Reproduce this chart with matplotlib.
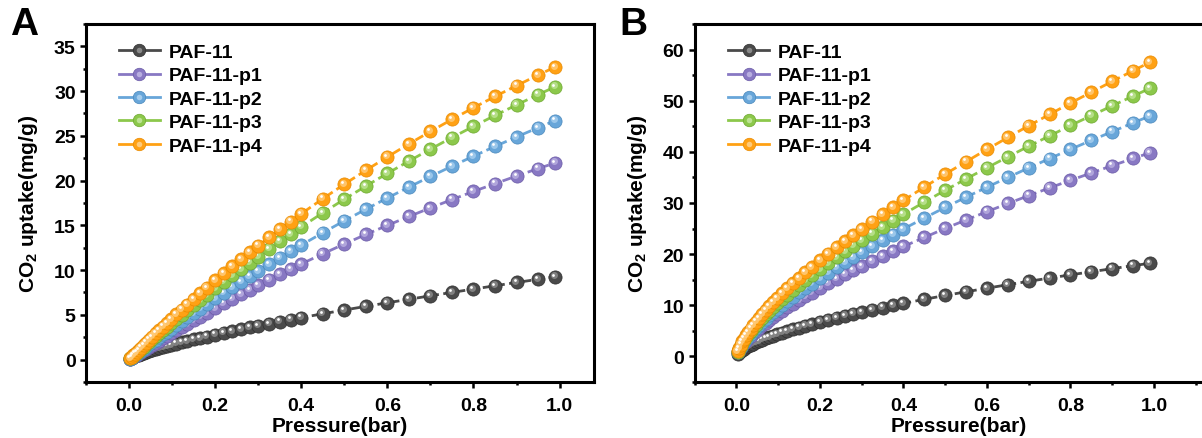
import matplotlib
matplotlib.use("Agg")
import matplotlib.pyplot as plt
from matplotlib.lines import Line2D
from matplotlib.legend_handler import HandlerTuple
from matplotlib.transforms import offset_copy
from matplotlib.ticker import MultipleLocator

plt.rcParams['font.family'] = ['Liberation Sans', 'DejaVu Sans']
plt.rcParams['font.weight'] = 'bold'
plt.rcParams['mathtext.fontset'] = 'custom'
plt.rcParams['mathtext.rm'] = 'Liberation Sans:bold'
plt.rcParams['mathtext.bf'] = 'Liberation Sans:bold'

# pressure points (bar), shared by all isotherms
pressure = [0.003, 0.006, 0.01, 0.014, 0.018, 0.023, 0.028, 0.034, 0.04, 0.047,
            0.054, 0.062, 0.07, 0.079, 0.088, 0.098, 0.11, 0.122, 0.135, 0.15,
            0.165, 0.18, 0.2, 0.22, 0.24, 0.26, 0.28, 0.3, 0.325, 0.35,
            0.375, 0.4, 0.45, 0.5, 0.55, 0.6, 0.65, 0.7, 0.75, 0.8,
            0.85, 0.9, 0.95, 0.99]

labels = ['PAF-11', 'PAF-11-p1', 'PAF-11-p2', 'PAF-11-p3', 'PAF-11-p4']

# panel A uptake (mg/g)
a_paf11 = [0.12, 0.20, 0.30, 0.38, 0.46, 0.55, 0.64, 0.74, 0.83, 0.94,
           1.04, 1.16, 1.27, 1.39, 1.51, 1.63, 1.78, 1.92, 2.08, 2.25,
           2.41, 2.57, 2.79, 2.99, 3.20, 3.39, 3.59, 3.78, 4.01, 4.24,
           4.47, 4.69, 5.12, 5.54, 5.95, 6.35, 6.74, 7.13, 7.51, 7.88,
           8.25, 8.62, 8.97, 9.25]
a_p1 = [0.09, 0.19, 0.31, 0.43, 0.55, 0.71, 0.86, 1.04, 1.22, 1.43,
        1.64, 1.88, 2.11, 2.37, 2.64, 2.92, 3.27, 3.61, 3.97, 4.39,
        4.80, 5.21, 5.74, 6.27, 6.79, 7.30, 7.81, 8.30, 8.92, 9.52,
        10.11, 10.69, 11.82, 12.92, 13.98, 15.00, 15.99, 16.95, 17.88, 18.79,
        19.66, 20.51, 21.34, 21.98]
a_p2 = [0.11, 0.22, 0.36, 0.51, 0.65, 0.83, 1.01, 1.23, 1.44, 1.69,
        1.94, 2.22, 2.50, 2.81, 3.12, 3.46, 3.87, 4.28, 4.71, 5.21,
        5.70, 6.19, 6.83, 7.46, 8.09, 8.70, 9.31, 9.91, 10.65, 11.38,
        12.09, 12.80, 14.17, 15.51, 16.80, 18.06, 19.28, 20.46, 21.61, 22.73,
        23.82, 24.88, 25.91, 26.71]
a_p3 = [0.13, 0.26, 0.43, 0.60, 0.77, 0.98, 1.19, 1.44, 1.69, 1.98,
        2.27, 2.60, 2.93, 3.29, 3.66, 4.06, 4.53, 5.00, 5.51, 6.08,
        6.66, 7.22, 7.96, 8.69, 9.42, 10.13, 10.83, 11.52, 12.37, 13.20,
        14.02, 14.83, 16.40, 17.92, 19.39, 20.81, 22.18, 23.52, 24.81, 26.06,
        27.28, 28.46, 29.60, 30.49]
a_p4 = [0.15, 0.29, 0.48, 0.67, 0.86, 1.10, 1.34, 1.62, 1.90, 2.23,
        2.55, 2.92, 3.28, 3.69, 4.09, 4.53, 5.06, 5.58, 6.14, 6.78,
        7.41, 8.03, 8.85, 9.65, 10.44, 11.21, 11.98, 12.73, 13.65, 14.55,
        15.43, 16.30, 17.98, 19.60, 21.15, 22.65, 24.10, 25.49, 26.84, 28.14,
        29.40, 30.61, 31.79, 32.70]

# panel B uptake (mg/g)
b_paf11 = [0.50, 0.77, 1.05, 1.30, 1.52, 1.77, 1.99, 2.25, 2.49, 2.75,
           3.00, 3.27, 3.52, 3.80, 4.06, 4.34, 4.66, 4.97, 5.29, 5.65,
           5.99, 6.32, 6.76, 7.17, 7.56, 7.94, 8.32, 8.68, 9.12, 9.55,
           9.97, 10.38, 11.16, 11.92, 12.63, 13.34, 14.02, 14.68, 15.32, 15.95,
           16.55, 17.16, 17.75, 18.20]
b_p1 = [0.77, 1.24, 1.75, 2.20, 2.61, 3.08, 3.52, 4.02, 4.49, 5.01,
        5.50, 6.05, 6.57, 7.13, 7.67, 8.25, 8.94, 9.58, 10.27, 11.03,
        11.76, 12.49, 13.42, 14.31, 15.18, 16.04, 16.86, 17.67, 18.65, 19.63,
        20.57, 21.50, 23.26, 25.03, 26.68, 28.30, 29.90, 31.43, 32.95, 34.43,
        35.87, 37.30, 38.70, 39.80]
b_p2 = [0.81, 1.32, 1.88, 2.38, 2.84, 3.38, 3.87, 4.44, 4.97, 5.56,
        6.14, 6.75, 7.36, 8.00, 8.64, 9.31, 10.10, 10.85, 11.66, 12.54,
        13.41, 14.24, 15.35, 16.40, 17.43, 18.43, 19.42, 20.37, 21.54, 22.70,
        23.81, 24.93, 27.06, 29.14, 31.13, 33.09, 34.99, 36.86, 38.68, 40.50,
        42.23, 43.95, 45.66, 47.00]
b_p3 = [0.90, 1.47, 2.10, 2.66, 3.17, 3.76, 4.32, 4.95, 5.54, 6.20,
        6.84, 7.53, 8.21, 8.92, 9.63, 10.38, 11.26, 12.10, 13.00, 13.99,
        14.95, 15.88, 17.11, 18.28, 19.43, 20.55, 21.65, 22.72, 24.02, 25.30,
        26.55, 27.80, 30.17, 32.49, 34.70, 36.89, 39.01, 41.10, 43.12, 45.15,
        47.08, 49.00, 50.90, 52.40]
b_p4 = [0.99, 1.61, 2.30, 2.92, 3.48, 4.13, 4.74, 5.43, 6.08, 6.80,
        7.51, 8.26, 9.00, 9.79, 10.57, 11.39, 12.35, 13.28, 14.27, 15.35,
        16.41, 17.42, 18.78, 20.06, 21.32, 22.55, 23.75, 24.93, 26.36, 27.77,
        29.13, 30.50, 33.11, 35.65, 38.08, 40.48, 42.81, 45.10, 47.32, 49.54,
        51.66, 53.77, 55.86, 57.50]

couleurs = ['#4a4a4a', '#8878c3', '#68a6d9', '#8cc84b', '#ffa114']
bords = ['#2e2e2e', '#6a5aa6', '#4a88bb', '#6ea82f', '#e88a00']
reflets = ['#8a8a8a', '#b8aee0', '#a5cdee', '#bde393', '#ffcb7a']

fig = plt.figure(figsize=(12.02, 4.39), dpi=100)
ax_a = fig.add_axes([0.0716, 0.1276, 0.4226, 0.8155])
ax_b = fig.add_axes([0.578, 0.1276, 0.44, 0.8155])


def tracer(ax, series):
    # courbes en pointillés + billes avec reflet
    haut1 = offset_copy(ax.transData, fig=fig, x=-1.4, y=1.4, units='dots')
    haut2 = offset_copy(ax.transData, fig=fig, x=-2.0, y=2.2, units='dots')
    handles = []
    for i, y in enumerate(series):
        z = 2 + i * 3
        ax.plot(pressure, y, ls=(0, (3.2, 1.6)), lw=2, color=couleurs[i], zorder=z)
        ax.plot(pressure, y, 'o', ms=9.5, mfc=couleurs[i], mec=bords[i], mew=0.5, zorder=z + 0.5)
        ax.plot(pressure, y, 'o', ms=5, mfc=reflets[i], mec='none', alpha=0.85,
                zorder=z + 1, transform=haut1)
        ax.plot(pressure, y, 'o', ms=2, mfc='white', mec='none', zorder=z + 1.5, transform=haut2)
        h1 = Line2D([], [], ls='-', lw=2, color=couleurs[i], marker='o', ms=9,
                    mfc=couleurs[i], mec=bords[i], mew=0.5)
        h2 = Line2D([], [], ls='none', marker='o', ms=4, mfc=reflets[i], mec='none')
        handles.append((h1, h2))
    ax.legend(handles, labels, loc='upper left', bbox_to_anchor=(0.03, 0.995), frameon=False,
              handler_map={tuple: HandlerTuple(ndivide=1, pad=0)},
              handlelength=2.1, handletextpad=0.45, labelspacing=0.3,
              prop={'size': 14, 'weight': 'bold'})


def habiller(ax, ylim, ymaj, ymin, xlim, lettre, xl):
    ax.set_xlim(*xlim)
    ax.set_ylim(*ylim)
    ax.xaxis.set_major_locator(MultipleLocator(0.2))
    ax.xaxis.set_minor_locator(MultipleLocator(0.1))
    ax.yaxis.set_major_locator(MultipleLocator(ymaj))
    ax.yaxis.set_minor_locator(MultipleLocator(ymin))
    for s in ax.spines.values():
        s.set_linewidth(2.2)
    ax.tick_params(which='major', direction='out', length=4.5, width=1.8, labelsize=14, pad=3)
    ax.tick_params(axis='x', which='major', pad=6)
    ax.tick_params(which='minor', direction='out', length=2.5, width=1.8)
    ax.set_xlabel('Pressure(bar)', fontsize=15, fontweight='bold', labelpad=2)
    ax.set_ylabel(r'CO$_{2}$ uptake(mg/g)', fontsize=15, fontweight='bold', labelpad=10)
    fig.text(xl, 0.985, lettre, fontsize=28, fontweight='bold', va='top', ha='left')


tracer(ax_a, [a_paf11, a_p1, a_p2, a_p3, a_p4])
habiller(ax_a, (-2.5, 37.5), 5, 2.5, (-0.1, 1.08), 'A', 0.008)

tracer(ax_b, [b_paf11, b_p1, b_p2, b_p3, b_p4])
habiller(ax_b, (-5, 65), 10, 5, (-0.1, 1.167), 'B', 0.515)

fig.savefig('out.png', dpi=100)
